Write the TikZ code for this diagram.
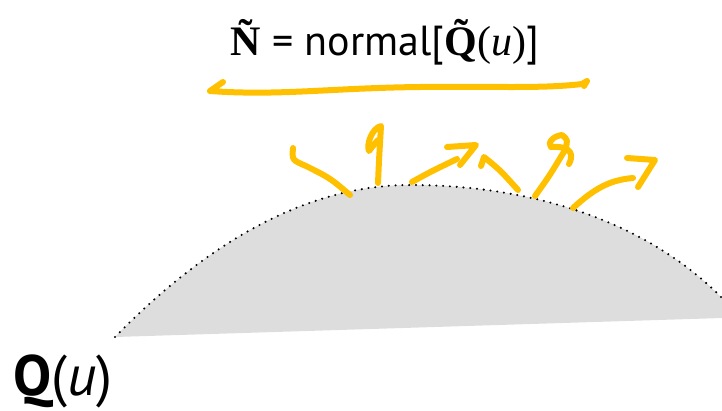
\documentclass[tikz,border=0pt]{standalone}
\usepackage{fontspec}
\setmainfont{PT Sans}
\newfontfamily\serifmath{Liberation Serif}
\usepackage{xcolor}
\definecolor{marker}{HTML}{FFC000}
\definecolor{surf}{HTML}{DDDDDD}

\begin{document}
\begin{tikzpicture}[
    x=1pt, y=-1pt,
    surface/.style={fill=surf},
    rim/.style={draw=black, line width=2.3pt, dash pattern=on 0pt off 6.8pt, line cap=round},
    scribble/.style={draw=marker, line width=6pt, line cap=round, line join=round},
    formula/.style={inner sep=0pt, anchor=base, font=\fontsize{42}{50}\selectfont},
    tag/.style={inner sep=0pt, anchor=base west, font=\fontsize{57}{64}\selectfont}
]
\useasboundingbox (0,0) rectangle (722,410);

% Surface patch
\fill[surface] (115,337) .. controls (200,250) and (300,185) .. (410,185)
    .. controls (520,185) and (640,215) .. (722,298) -- (722,318) -- cycle;
\draw[rim] (115,337) .. controls (200,250) and (300,185) .. (410,185)
    .. controls (520,185) and (640,215) .. (722,298);

% Labels
\node[formula] (nrm) at (385,55) {{\serifmath\bfseries\~N} = normal[{\serifmath\bfseries\~Q}{\serifmath(\textit{u})}]};
\node[tag] (qu) at (13,395) {{\bfseries Q}(\textit{u})};

% Underline
\draw[scribble] (223,82) -- (210,91) .. controls (280,96) and (330,88) .. (420,87)
    .. controls (490,86) and (540,89) .. (582,84) -- (587,81) -- (584,86);

% Normals
\draw[scribble] (350,195) .. controls (330,178) .. (306,166) .. controls (292,160) .. (293,148);
\draw[scribble] (378,183) .. controls (379,160) .. (381,126) .. controls (372,128) and (366,145) .. (369,151) .. controls (372,147) .. (378,140);
\draw[scribble] (412,182) .. controls (430,172) .. (457,159);
\draw[scribble] (447,147) -- (476,145) -- (460,165);
\draw[scribble] (518,190) .. controls (500,170) .. (484,157) -- (481,166);
\draw[scribble] (535,196) .. controls (550,175) .. (565,150) .. controls (568,140) .. (562,135) .. controls (553,136) and (547,143) .. (551,147) .. controls (565,146) and (576,150) .. (569,164);
\draw[scribble] (573,208) .. controls (595,188) and (610,180) .. (633,178);
\draw[scribble] (627,158) -- (655,160) -- (638,187);
\end{tikzpicture}
\end{document}
